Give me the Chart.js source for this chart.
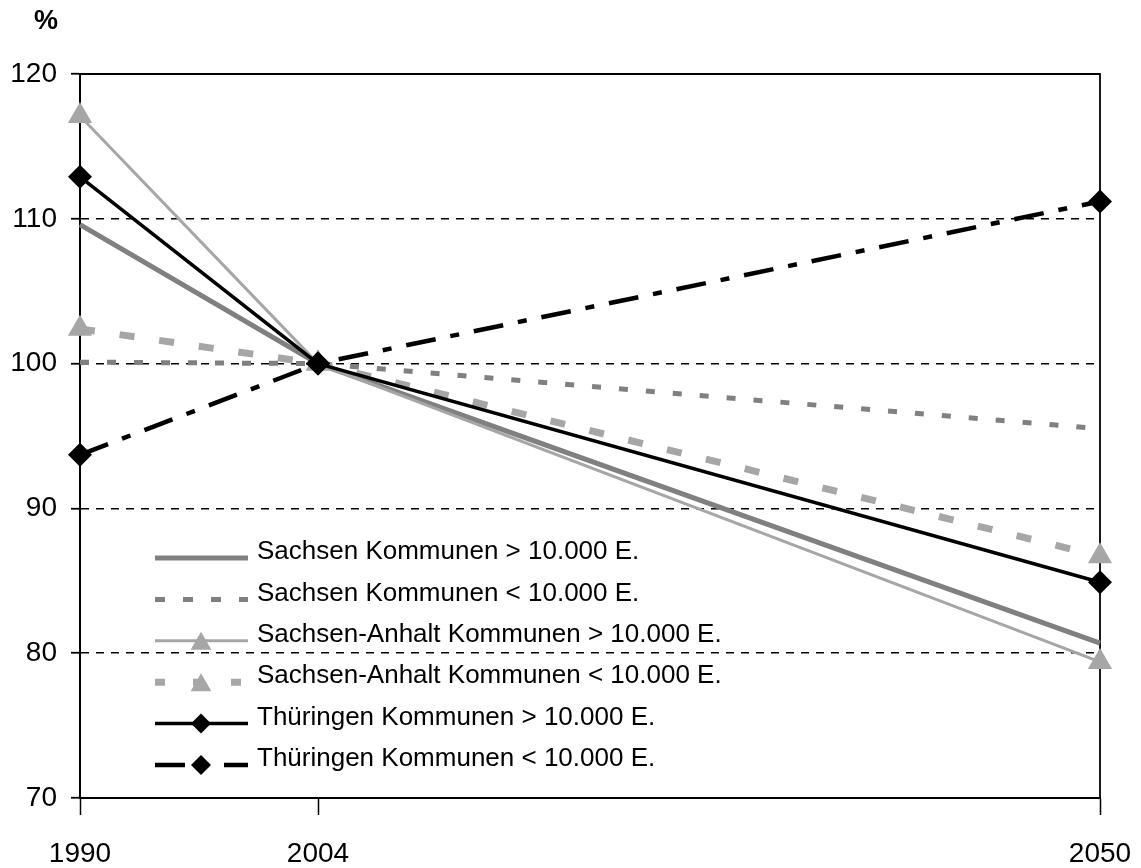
<!DOCTYPE html>
<html lang="de">
<head>
<meta charset="utf-8">
<title>Bevölkerungsentwicklung Kommunen</title>
<script src="https://cdn.jsdelivr.net/npm/chart.js@4.4.1/dist/chart.umd.min.js"></script>
<style>
    html, body { margin: 0; padding: 0; background: #fff; }
    #wrap { width: 1141px; height: 868px; position: relative; }
</style>
</head>
<body>
<div id="wrap"><canvas id="chart"></canvas></div>
<script>
// Data (index 2004 = 100)
const years = [1990, 2004, 2050];
const yTicks = [70, 80, 90, 100, 110, 120];
const labels = [
    'Sachsen Kommunen > 10.000 E.',
    'Sachsen Kommunen < 10.000 E.',
    'Sachsen-Anhalt Kommunen > 10.000 E.',
    'Sachsen-Anhalt Kommunen < 10.000 E.',
    'Thüringen Kommunen > 10.000 E.',
    'Thüringen Kommunen < 10.000 E.'
];
const sachsenGross = [109.6, 100, 80.7];
const sachsenKlein = [100.1, 100, 95.5];
const anhaltGross = [117.1, 100, 79.4];
const anhaltKlein = [102.4, 100, 86.7];
const thueringenGross = [112.9, 100, 84.9];
const thueringenKlein = [93.7, 100, 111.2];

const FONT = '"Liberation Sans", Arial, sans-serif';
const DARK = '#808080';
const LIGHT = '#a6a6a6';

const styles = [
    { color: DARK, width: 5, dash: [], point: false },
    { color: DARK, width: 5, dash: [9, 18], point: false },
    { color: LIGHT, width: 3, dash: [], point: 'triangle', radius: 14 },
    { color: LIGHT, width: 7, dash: [15, 25], point: 'triangle', radius: 14 },
    { color: '#000', width: 3.5, dash: [], point: 'rectRot', radius: 12 },
    { color: '#000', width: 4.5, dash: [30, 15, 9, 15], point: 'rectRot', radius: 12 }
];
const series = [sachsenGross, sachsenKlein, anhaltGross, anhaltKlein, thueringenGross, thueringenKlein];

const datasets = series.map((values, i) => {
    const s = styles[i];
    return {
        label: labels[i],
        data: values.map((v, k) => ({ x: years[k], y: v })),
        borderColor: s.color,
        backgroundColor: s.color,
        borderWidth: s.width,
        borderDash: s.dash,
        pointStyle: s.point || 'circle',
        pointRadius: s.point ? s.radius : 0,
        pointBorderWidth: 0,
        pointBackgroundColor: s.color,
        tension: 0,
        clip: false,
        order: 6 - i
    };
});

function drawMarker(ctx, type, x, y, r) {
    ctx.beginPath();
    if (type === 'triangle') {
        ctx.moveTo(x, y - r);
        ctx.lineTo(x + r * Math.sin(2 * Math.PI / 3), y + r / 2);
        ctx.lineTo(x - r * Math.sin(2 * Math.PI / 3), y + r / 2);
    } else {
        ctx.moveTo(x, y - r);
        ctx.lineTo(x + r, y);
        ctx.lineTo(x, y + r);
        ctx.lineTo(x - r, y);
    }
    ctx.closePath();
    ctx.fill();
}

// box around the plot, "%" label and the legend inside the plot
const extras = {
    id: 'extras',
    beforeDatasetsDraw(chart) {
        const { ctx, chartArea: a } = chart;
        ctx.save();
        ctx.strokeStyle = '#000';
        ctx.lineWidth = 1.8;
        ctx.beginPath();
        ctx.moveTo(a.left, a.top);
        ctx.lineTo(a.right, a.top);
        ctx.lineTo(a.right, a.bottom);
        ctx.stroke();
        ctx.restore();
    },
    afterDraw(chart) {
        const ctx = chart.ctx;
        ctx.save();
        ctx.fillStyle = '#000';
        ctx.font = 'bold 27px ' + FONT;
        ctx.textBaseline = 'middle';
        ctx.textAlign = 'left';
        ctx.fillText('%', 34, 22);

        ctx.font = '26px ' + FONT;
        labels.forEach((text, i) => {
            const s = styles[i];
            const ty = 552 + i * 41.4;
            const ly = ty + 6;
            ctx.save();
            ctx.strokeStyle = s.color;
            ctx.lineWidth = s.width;
            ctx.setLineDash(i === 1 ? [10, 18] : i === 3 ? [10, 28] : s.dash);
            ctx.beginPath();
            ctx.moveTo(155, ly);
            ctx.lineTo(248, ly);
            ctx.stroke();
            ctx.restore();
            if (s.point) {
                ctx.fillStyle = s.color;
                drawMarker(ctx, s.point, 201, s.point === 'triangle' ? ly + 3 : ly, s.point === 'triangle' ? 12 : 10);
            }
            ctx.fillStyle = '#000';
            ctx.fillText(text, 257, ty);
        });
        ctx.restore();
    }
};

new Chart(document.getElementById('chart'), {
    type: 'line',
    data: { datasets },
    options: {
        responsive: true,
        maintainAspectRatio: false,
        animation: false,
        layout: { padding: { top: 74, right: 41, bottom: 0, left: 0 } },
        plugins: {
            legend: { display: false },
            tooltip: { enabled: false }
        },
        scales: {
            x: {
                type: 'linear',
                min: years[0],
                max: years[years.length - 1],
                afterBuildTicks: (scale) => { scale.ticks = years.map(v => ({ value: v })); },
                afterFit: (scale) => {
                    scale.height = 70;
                    scale.paddingLeft = 0;
                    scale.paddingRight = 0;
                },
                grid: {
                    drawOnChartArea: false,
                    drawTicks: true,
                    tickLength: 17,
                    tickColor: '#000',
                    tickWidth: 1.5
                },
                border: { display: true, color: '#000', width: 2 },
                ticks: {
                    autoSkip: false,
                    maxRotation: 0,
                    padding: 22,
                    color: '#000',
                    font: { family: FONT, size: 28 },
                    callback: (v) => String(v)
                }
            },
            y: {
                min: yTicks[0],
                max: yTicks[yTicks.length - 1],
                afterBuildTicks: (scale) => { scale.ticks = yTicks.map(v => ({ value: v })); },
                afterFit: (scale) => {
                    scale.width = 80;
                    scale.paddingTop = 0;
                    scale.paddingBottom = 0;
                },
                grid: {
                    color: '#000',
                    lineWidth: 1.5,
                    drawTicks: true,
                    tickLength: 9,
                    tickColor: '#000',
                    tickWidth: 1.8,
                    tickBorderDash: []
                },
                border: { display: true, color: '#000', width: 2, dash: [8, 7] },
                ticks: {
                    padding: 14,
                    color: '#000',
                    font: { family: FONT, size: 28 }
                }
            }
        }
    },
    plugins: [extras]
});
</script>
</body>
</html>
